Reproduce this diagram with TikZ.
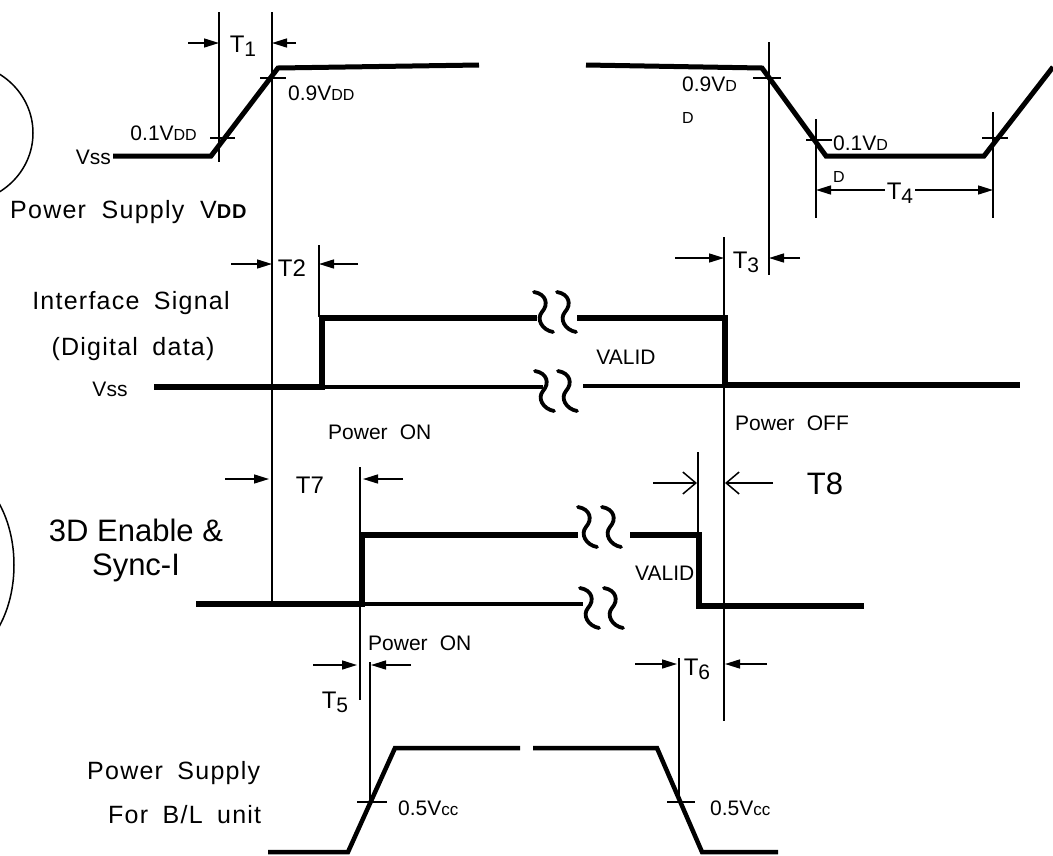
\documentclass[tikz,border=0pt]{standalone}
\usepackage{fontspec}
\setmainfont{Liberation Sans}
\newfontfamily\spaced[LetterSpace=5]{Liberation Sans}
\usetikzlibrary{arrows.meta}
\newcommand{\lowd}[1]{\raisebox{-0.3ex}{\fontsize{21}{21}\selectfont #1}}
\begin{document}
\begin{tikzpicture}[x=1pt,y=-1pt,
  hair/.style={line width=1.5pt},
  sig/.style={line width=5.5pt, line join=miter},
  sigm/.style={line width=4pt},
  squigline/.style={line width=3.8pt, line cap=round},
  dimarrow/.style={line width=1.5pt, -{Triangle[length=15pt,width=9pt]}},
  openarrow/.style={line width=1.5pt, -{Straight Barb[length=13pt,width=22pt,line width=1.5pt]}},
  lbl/.style={inner sep=0pt, font=\spaced\fontsize{25}{30}\selectfont},
  big/.style={inner sep=0pt, font=\fontsize{31}{34}\selectfont},
  sml/.style={inner sep=0pt, font=\fontsize{21}{25}\selectfont},
  tlbl/.style={inner sep=0pt, font=\fontsize{24}{28}\selectfont},
  squig/.pic={\draw[squigline] (-7,-22) .. controls (5,-20) and (8,-10) .. (1,-2) .. controls (-5,5) and (1,16) .. (12,18);}
]
\useasboundingbox (0,0) rectangle (1053,855);

% ---- left ellipse arcs
\begin{scope}
\clip (0,0) rectangle (1053,855);
\draw[hair] (-40,133) ellipse [x radius=73, y radius=70];
\draw[hair] (-50,565) ellipse [x radius=64, y radius=96];
\end{scope}

% ================= Power supply VDD =================
\coordinate (v0) at (113,156);
\coordinate (v1) at (211,156);
\coordinate (v2) at (278,68);
\coordinate (v3) at (479,65);
\coordinate (w0) at (586,65);
\coordinate (w1) at (762,68);
\coordinate (w2) at (826,156);
\coordinate (w3) at (984,156);
\coordinate (w4) at (1053,67);
\draw[line width=5pt, line join=miter] (v0) -- (v1) -- (v2) -- (v3);
\draw[line width=5pt, line join=miter] (w0) -- (w1) -- (w2) -- (w3) -- (w4);

% ticks
\draw[hair] (210,138) -- (235,138);
\draw[hair] (260,78) -- (286,78);
\draw[hair] (753,78) -- (781,78);
\draw[hair] (806,140) -- (832,140);
\draw[hair] (982,138) -- (1008,138);

% vertical reference lines
\coordinate (a1) at (219,12);  \coordinate (a1b) at (219,162);
\coordinate (a2) at (272,12);  \coordinate (a2b) at (272,604);
\coordinate (a3) at (769,42);  \coordinate (a3b) at (769,275);
\coordinate (a4) at (816,119); \coordinate (a4b) at (816,218);
\coordinate (a5) at (993,112); \coordinate (a5b) at (993,218);
\coordinate (a6) at (319,245); \coordinate (a6b) at (319,317);
\coordinate (a7) at (724,237); \coordinate (a7b) at (724,721);
\coordinate (a8) at (360,467); \coordinate (a8b) at (360,700);
\coordinate (a9) at (698,452); \coordinate (a9b) at (698,535);
\coordinate (a10) at (370,662); \coordinate (a10b) at (370,803);
\coordinate (a11) at (679,658); \coordinate (a11b) at (679,802);
\foreach \p in {a1,a2,a3,a4,a5,a6,a7,a8,a9,a10,a11}
  \draw[hair] (\p) -- (\p b);

% T1
\coordinate (t1a) at (188,43); \coordinate (t1b) at (219,43);
\coordinate (t1c) at (296,43); \coordinate (t1d) at (272,43);
\draw[dimarrow] (t1a) -- (t1b);
\draw[dimarrow] (t1c) -- (t1d);
\node[tlbl] (T1) at (243,46) {T\lowd{1}};

% labels VDD
\node[sml, anchor=east] (l01) at (197,133) {0.1V{\fontsize{16}{16}\selectfont DD}};
\node[sml, anchor=east] (vss1) at (111,157) {Vss};
\node[sml, anchor=west] (l09) at (288,93) {0.9V{\fontsize{16}{16}\selectfont DD}};
\node[lbl, anchor=west] (psv) at (10,212) {Power\hspace{0.3em} Supply\hspace{0.3em} V{\fontsize{20}{20}\selectfont\bfseries DD}};
\node[sml, anchor=west] (l09b) at (682,84) {0.9V{\fontsize{16}{16}\selectfont D}};
\node[anchor=west, inner sep=0pt, font=\fontsize{16}{16}\selectfont] (l09c) at (682,118) {D};
\node[sml, anchor=west] (l01b) at (833,143) {0.1V{\fontsize{16}{16}\selectfont D}};
\node[anchor=west, inner sep=0pt, font=\fontsize{16}{16}\selectfont] (l01c) at (833,177) {D};

% T4
\node[tlbl] (T4) at (900,193) {T\lowd{4}};
\draw[dimarrow] (T4.west) ++(-2,-3) coordinate (t4l) -- (816,190);
\draw[dimarrow] (T4.east) ++(2,-3) coordinate (t4r) -- (993,190);

% ================= Interface signal =================
\draw[dimarrow] (231,264) -- (272,264);
\draw[dimarrow] (358,264) -- (319,264);
\node[tlbl] (T2) at (292,268) {T2};

\draw[dimarrow] (675,258) -- (724,258);
\draw[dimarrow] (800,258) -- (769,258);
\node[tlbl] (T3) at (746,262) {T\lowd{3}};

\coordinate (i0) at (154,387);
\coordinate (i1) at (322,318);
\coordinate (i2) at (537,318);
\draw[sig] (i0) -| (i1) -- (i2);
\draw[sigm] (322,387) -- (543,387);
\coordinate (i3) at (577,318);
\coordinate (i4) at (725,318);
\coordinate (i5) at (725,385);
\coordinate (i6) at (1020,385);
\draw[sig] (i3) -- (i4) -- (i5) -- (i6);
\draw[sigm] (583,386) -- (725,386);
\pic at (541,314) {squig};
\pic at (564,314) {squig};
\pic at (542,393) {squig};
\pic at (565,393) {squig};

\node[lbl] (isig) at (131,303) {Interface\hspace{0.25em} Signal};
\node[lbl] (ddata) at (133,349) {(Digital\hspace{0.25em} data)};
\node[sml] (vss2) at (110,389) {Vss};
\node[sml] (valid1) at (626,357) {VALID};
\node[sml, anchor=west] (pon1) at (328,432) {Power\hspace{0.3em} ON};
\node[sml, anchor=west] (poff) at (735,423) {Power\hspace{0.3em} OFF};

% ================= 3D Enable =================
\draw[dimarrow] (225,479) -- (269,479);
\draw[dimarrow] (403,479) -- (363,479);
\node[tlbl] (T7) at (310,485) {T7};

\draw[openarrow] (653,483) -- (697,483);
\draw[openarrow] (773,483) -- (725,483);
\node[big] (T8) at (825,484) {T8};

\node[sml, anchor=west] (valid2) at (635,573) {VALID};

\coordinate (e0) at (196,604);
\coordinate (e1) at (362,535);
\coordinate (e2) at (578,535);
\draw[sig] (e0) -| (e1) -- (e2);
\draw[sigm] (362,604) -- (583,604);
\coordinate (e3) at (630,535);
\coordinate (e4) at (699,535);
\coordinate (e5) at (699,606);
\coordinate (e6) at (864,606);
\draw[sig] (e3) -- (e4) -- (e5) -- (e6);
\pic at (585,529) {squig};
\pic at (609,529) {squig};
\pic at (587,610) {squig};
\pic at (611,610) {squig};

\node[big] (en3d) at (136,530) {3D Enable \&};
\node[big] (sync) at (136,568) {Sync-I};
\node[sml, anchor=west] (pon2) at (368,643) {Power\hspace{0.3em} ON};

% ================= B/L power supply =================
\draw[dimarrow] (313,665) -- (357,665);
\draw[dimarrow] (411,665) -- (371,665);
\node[tlbl] (T5) at (335,702) {T\lowd{5}};

\draw[dimarrow] (635,664) -- (677,664);
\draw[dimarrow] (767,664) -- (725,664);
\node[tlbl] (T6) at (697,669) {T\lowd{6}};

\coordinate (b0) at (268,852);
\coordinate (b1) at (348,852);
\coordinate (b2) at (395,748);
\coordinate (b3) at (520,748);
\draw[line width=4.5pt, line join=miter] (b0) -- (b1) -- (b2) -- (b3);
\coordinate (c0) at (533,748);
\coordinate (c1) at (657,748);
\coordinate (c2) at (702,852);
\coordinate (c3) at (778,852);
\draw[line width=4.5pt, line join=miter] (c0) -- (c1) -- (c2) -- (c3);

\draw[hair] (357,802) -- (387,802);
\draw[hair] (667,802) -- (695,802);
\node[sml, anchor=west] (vcc1) at (398,808) {0.5V{\fontsize{17}{17}\selectfont cc}};
\node[sml, anchor=west] (vcc2) at (710,808) {0.5V{\fontsize{17}{17}\selectfont cc}};

\node[lbl, anchor=west] (psbl) at (87,773) {Power\hspace{0.25em} Supply};
\node[lbl, anchor=west] (forbl) at (108,815) {For\hspace{0.25em} B/L\hspace{0.25em} unit};
\end{tikzpicture}
\end{document}
